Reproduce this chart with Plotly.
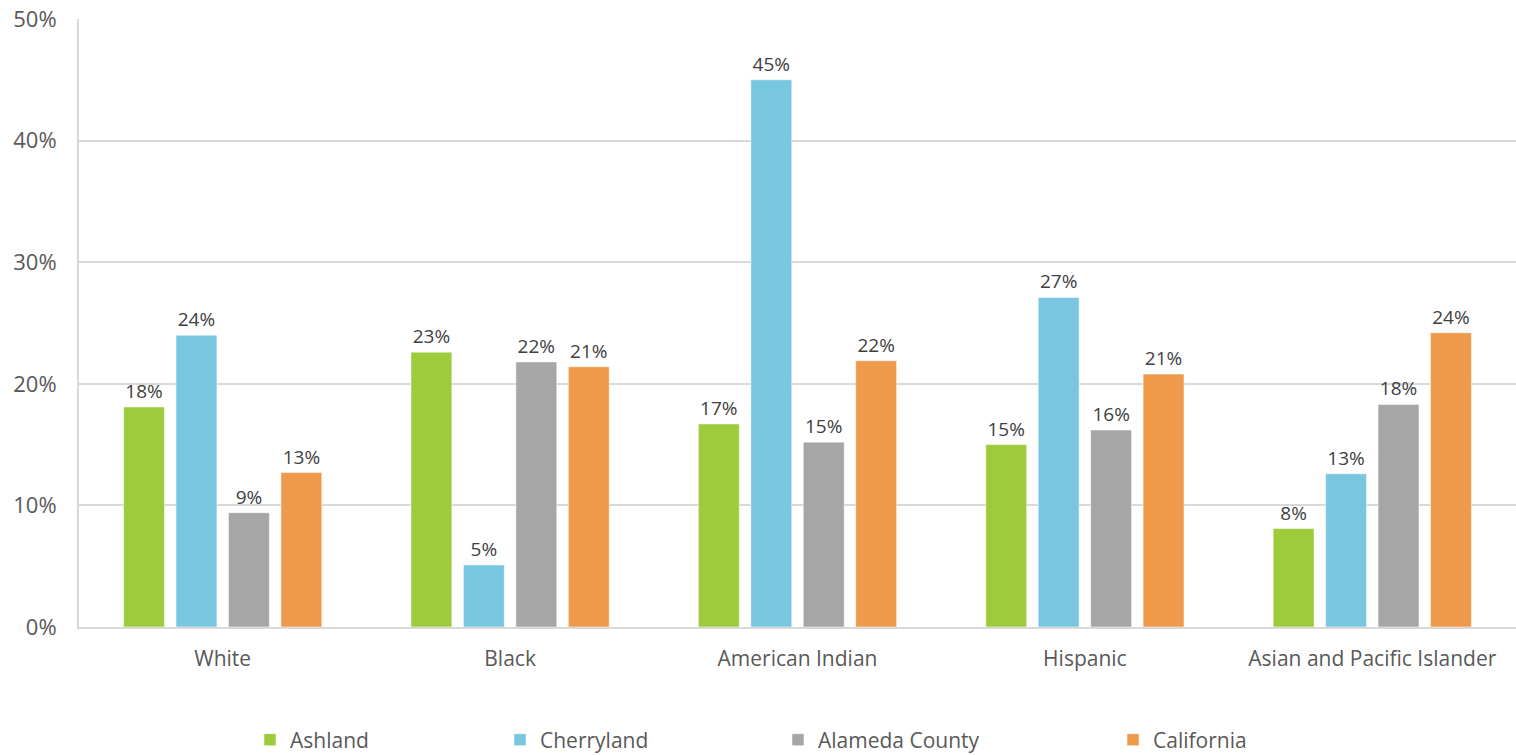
import plotly.graph_objects as go

categories = ["White", "Black", "American Indian", "Hispanic", "Asian and Pacific Islander"]
ashland = [18.1, 22.6, 16.7, 15.0, 8.1]
cherryland = [24.0, 5.1, 45.0, 27.1, 12.6]
alameda = [9.4, 21.8, 15.2, 16.2, 18.3]
california = [12.7, 21.4, 21.9, 20.8, 24.2]
series_names = ["Ashland", "Cherryland", "Alameda County", "California"]
series_values = [ashland, cherryland, alameda, california]
colors = ["#9ECB3B", "#78C6E0", "#A6A6A6", "#EF9A4B"]
y_ticks = [0, 10, 20, 30, 40, 50]
y_tick_labels = ["0%", "10%", "20%", "30%", "40%", "50%"]

FONT = "Open Sans"
W, H = 1516, 755
ML, MR, MT, MB = 79, 0, 19, 128
plot_w = W - ML - MR
plot_h = H - MT - MB

# legend item text start positions (pixels) in the reference
legend_px = [250, 500, 778, 1113]
legend_names = ["legend", "legend2", "legend3", "legend4"]

fig = go.Figure()
for name, vals, col, lg in zip(series_names, series_values, colors, legend_names):
    fig.add_trace(go.Bar(
        x=categories, y=vals, name=name,
        marker=dict(color=col, line=dict(color="rgba(255,255,255,0.5)", width=1)),
        texttemplate="%{y:.0f}%", textposition="outside",
        textfont=dict(family=FONT, size=19, color="#404040"),
        cliponaxis=False, legend=lg,
    ))

legend_y = (H - MB - 740) / plot_h
layout_legends = {}
for lg, px in zip(legend_names, legend_px):
    layout_legends[lg] = dict(
        x=(px - ML) / plot_w, xanchor="left", y=legend_y, yanchor="middle",
        orientation="h", font=dict(family=FONT, size=21, color="#595959"),
        bgcolor="rgba(0,0,0,0)", itemwidth=30,
    )

fig.update_layout(
    width=W, height=H,
    margin=dict(l=ML, r=MR, t=MT, b=MB, pad=0, autoexpand=False),
    paper_bgcolor="white", plot_bgcolor="white",
    barmode="group", bargap=0.27, bargroupgap=0.22,
    font=dict(family=FONT, color="#595959"),
    showlegend=True,
    **layout_legends,
)
fig.update_xaxes(
    showgrid=False, showline=True, linecolor="#D9D9D9", linewidth=2,
    ticks="outside", ticklen=12, tickcolor="rgba(0,0,0,0)",
    tickfont=dict(family=FONT, size=21, color="#595959"), automargin=False,
)
fig.update_yaxes(
    range=[0, 50], tickvals=y_ticks, ticktext=y_tick_labels,
    showgrid=True, gridcolor="#D9D9D9", gridwidth=2,
    showline=True, linecolor="#D9D9D9", linewidth=2, zeroline=False,
    ticks="outside", ticklen=16, tickcolor="rgba(0,0,0,0)",
    tickfont=dict(family=FONT, size=22, color="#595959"), automargin=False,
)

fig.write_html("out.html", config={"displayModeBar": False})
